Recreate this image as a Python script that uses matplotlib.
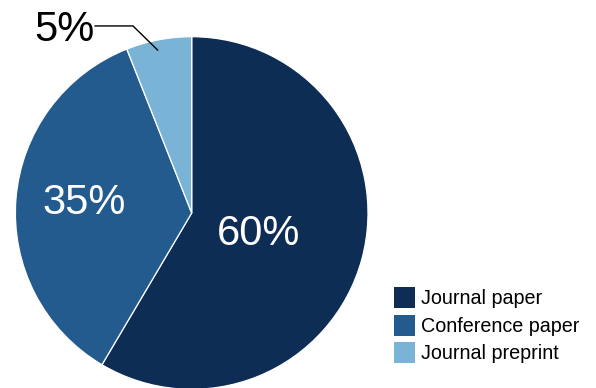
import matplotlib
matplotlib.use("Agg")
import matplotlib.pyplot as plt
from matplotlib.patches import Rectangle
import numpy as np

categories = ["Journal paper", "Conference paper", "Journal preprint"]
values = [58.5, 35.5, 6.0]
pct_labels = ["60%", "35%", "5%"]
colors = ["#0e2d54", "#235b8f", "#79b4d6"]

W, H = 596, 388
fig = plt.figure(figsize=(W / 100, H / 100), dpi=100)
plt.rcParams['font.family'] = ['Liberation Sans', 'DejaVu Sans']

cx, cy, r = 191.7, 213.0, 176.3
ax = fig.add_axes([(cx - r) / W, (H - cy - r) / H, 2 * r / W, 2 * r / H])
wedges, _ = ax.pie(values, colors=colors, startangle=90, counterclock=False,
                   wedgeprops=dict(edgecolor="white", linewidth=0.9), radius=1.0)
ax.set_xlim(-1, 1)
ax.set_ylim(-1, 1)
ax.set_aspect('auto')
ax.axis('off')

# inside labels
label_dist = [0.395, 0.612]
angle_adj = [0, -2.5]
dy = -0.017
for i in range(2):
    w = wedges[i]
    ang = np.deg2rad((w.theta1 + w.theta2) / 2 + angle_adj[i])
    ax.text(label_dist[i] * np.cos(ang), label_dist[i] * np.sin(ang) + dy, pct_labels[i],
            color="white", fontsize=30, ha="center", va="center")

# outside label for small slice with leader line
w = wedges[2]
ang = np.deg2rad((w.theta1 + w.theta2) / 2 + 1.0)
px, py = 0.944 * np.cos(ang), 0.944 * np.sin(ang)
cxn, cyn = -0.333, 1.061
ex = -0.548
ax.plot([px, cxn, ex], [py, cyn, cyn], color="black", lw=1.0, clip_on=False,
        solid_joinstyle="miter")
ax.text(-0.724, 1.055 + dy, pct_labels[2], color="black", fontsize=30,
        ha="center", va="center", clip_on=False)

# legend
sq = 21
for i, (lab, col) in enumerate(zip(categories, colors)):
    top = 287 + 27.5 * i
    fig.add_artist(Rectangle((394 / W, 1 - (top + sq) / H), sq / W, sq / H,
                             transform=fig.transFigure, facecolor=col, edgecolor="none"))
    fig.text(421 / W, 1 - (top + 17.3) / H, lab, fontsize=14.2, color="black",
             ha="left", va="baseline")

fig.savefig("out.png", dpi=100)
